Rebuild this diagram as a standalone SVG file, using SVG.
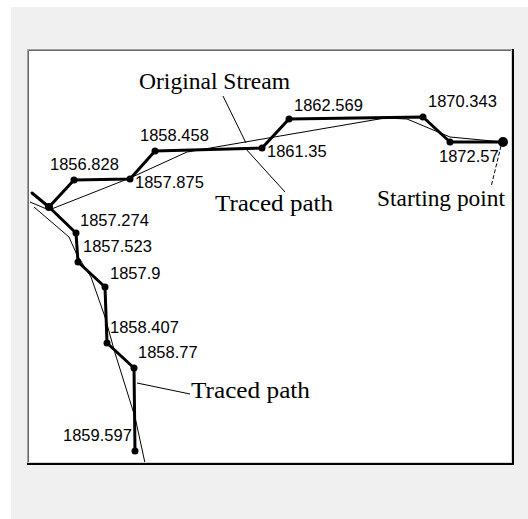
<svg xmlns="http://www.w3.org/2000/svg" width="528" height="519" viewBox="0 0 528 519">
<defs>
<style>
.num{font-family:"Liberation Sans",Arial,sans-serif;font-size:16.5px;fill:#000}
.lbl{font-family:"Liberation Serif","Times New Roman",serif;font-size:23px;fill:#000}
.thick{fill:none;stroke:#000;stroke-width:3;stroke-linejoin:round;stroke-linecap:round}
.thin{fill:none;stroke:#000;stroke-width:1}
.dot{fill:#000}
</style>
</defs>
<rect x="0" y="0" width="528" height="519" fill="#ffffff"/>
<rect x="11" y="7" width="517" height="512" fill="#f0f0f0"/>
<rect x="27" y="49" width="486" height="415" fill="#ffffff"/>
<g id="original-stream">
<polyline class="thin" points="30,202 49,210 130,178 187,152 385,118 407,119 450,137 503,142"/>
<polyline class="thin" points="34,207 69,237 77,255 91,277 105,317 115,353 135,417 145,463"/>
</g>
<g id="frame">
<path d="M27.5,464 V49.5 H513" fill="none" stroke="#a0a0a0" stroke-width="1"/>
<path d="M28.5,463 V50.5 H512" fill="none" stroke="#696969" stroke-width="1"/>
<path d="M511.5,50 V462.5 H28" fill="none" stroke="#d4d4d4" stroke-width="1"/>
<path d="M513,49 V464 H27" fill="none" stroke="#000" stroke-width="2"/>
</g>
<g id="connectors">
<polyline class="thick" points="32,193 49,207"/>
<polyline class="thick" points="503,142 450,142 423,117 289,119 262,148 155,151 130,179 74,180 49,207"/>
<polyline class="thick" points="49,207 76,233 78,262 105,287 107,343 134,368 135,451"/>
<line class="thin" x1="223" y1="96" x2="246" y2="143"/>
<line class="thin" x1="245" y1="148" x2="285" y2="192"/>
<line class="thin" x1="501" y1="146" x2="491" y2="187" stroke-dasharray="4 2"/>
<line class="thin" x1="137" y1="383" x2="190" y2="394"/>
</g>
<g id="n1872-57"><circle class="dot" cx="503" cy="142" r="5"/><circle class="dot" cx="450" cy="142" r="3.5"/><text class="num" x="439" y="162">1872.57</text></g>
<g id="n1870-343"><circle class="dot" cx="423" cy="117" r="3.5"/><text class="num" x="428" y="107">1870.343</text></g>
<g id="n1862-569"><circle class="dot" cx="289" cy="119" r="3.5"/><text class="num" x="294" y="111">1862.569</text></g>
<g id="n1861-35"><circle class="dot" cx="262" cy="148" r="3.5"/><text class="num" x="267" y="157">1861.35</text></g>
<g id="n1858-458"><circle class="dot" cx="155" cy="151" r="3.5"/><text class="num" x="140" y="141">1858.458</text></g>
<g id="n1857-875"><circle class="dot" cx="130" cy="179" r="3.5"/><text class="num" x="135" y="188">1857.875</text></g>
<g id="n1856-828"><circle class="dot" cx="74" cy="180" r="3.5"/><text class="num" x="50" y="170">1856.828</text></g>
<g id="junction"><circle class="dot" cx="49" cy="207" r="4"/></g>
<g id="n1857-274"><circle class="dot" cx="76" cy="233" r="3.5"/><text class="num" x="80" y="226">1857.274</text></g>
<g id="n1857-523"><circle class="dot" cx="78" cy="262" r="3.5"/><text class="num" x="83" y="252">1857.523</text></g>
<g id="n1857-9"><circle class="dot" cx="105" cy="287" r="3.5"/><text class="num" x="110" y="279">1857.9</text></g>
<g id="n1858-407"><circle class="dot" cx="107" cy="343" r="3.5"/><text class="num" x="110" y="333">1858.407</text></g>
<g id="n1858-77"><circle class="dot" cx="134" cy="368" r="3.5"/><text class="num" x="138" y="358">1858.77</text></g>
<g id="n1859-597"><circle class="dot" cx="135" cy="451" r="3.5"/><text class="num" x="63" y="441">1859.597</text></g>
<g id="labels">
<text class="lbl" x="139" y="89" textLength="151" lengthAdjust="spacingAndGlyphs">Original Stream</text>
<text class="lbl" x="215" y="211" textLength="118" lengthAdjust="spacingAndGlyphs">Traced path</text>
<text class="lbl" x="377" y="206" textLength="128" lengthAdjust="spacingAndGlyphs">Starting point</text>
<text class="lbl" x="191" y="398" textLength="119" lengthAdjust="spacingAndGlyphs">Traced path</text>
</g>
</svg>
